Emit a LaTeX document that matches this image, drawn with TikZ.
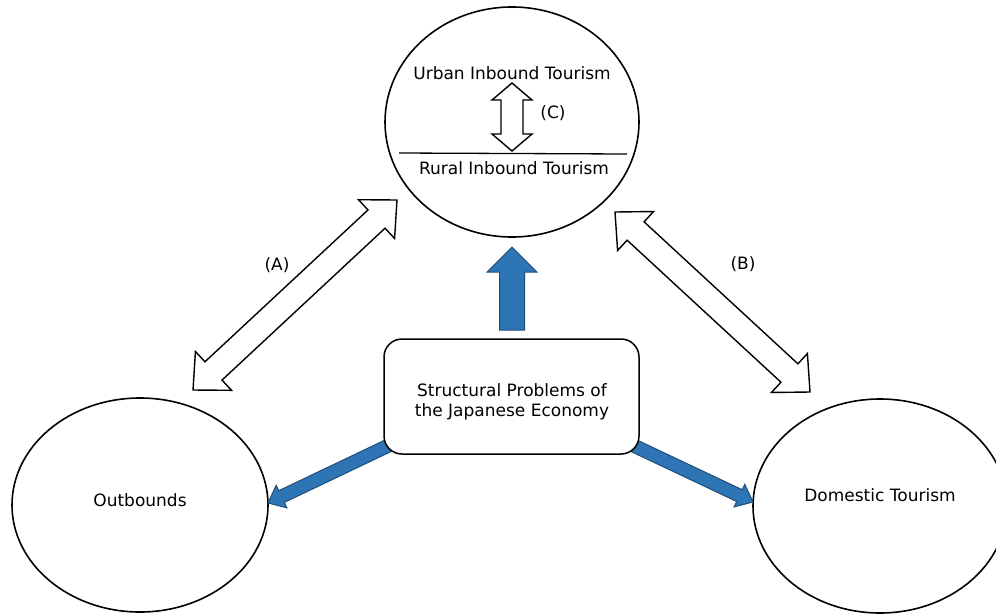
\documentclass[tikz,border=0pt]{standalone}
\usepackage{fontspec}
\setmainfont{DejaVu Sans}
\usetikzlibrary{calc,shapes.geometric}
\definecolor{blockblue}{HTML}{2E75B6}
\definecolor{blockedge}{HTML}{1F4E79}
\tikzset{
  bubble/.style={ellipse, draw, line width=1.6pt, inner sep=0pt},
  lbl/.style={inner sep=0pt, font=\fontsize{17}{20}\selectfont},
  whiteblock/.style={draw, fill=white, line width=1.4pt, line join=miter},
  blueblock/.style={draw=blockedge, fill=blockblue, line width=1pt, line join=miter},
}
% double block arrow: name, start, end, shaft half, head half, head length
\newcommand\dblblock[6]{%
  \coordinate (#1-p) at ($(#2)!#6!(#3)$);
  \coordinate (#1-q) at ($(#3)!#6!(#2)$);
  \draw[whiteblock] (#2) -- ($(#1-p)!#5!90:(#3)$) -- ($(#1-p)!#4!90:(#3)$)
    -- ($(#1-q)!#4!-90:(#2)$) -- ($(#1-q)!#5!-90:(#2)$) -- (#3)
    -- ($(#1-q)!#5!90:(#2)$) -- ($(#1-q)!#4!90:(#2)$)
    -- ($(#1-p)!#4!-90:(#3)$) -- ($(#1-p)!#5!-90:(#3)$) -- cycle;
}
% single block arrow: name, tail, tip, shaft half, head half, head length
\newcommand\sglblock[6]{%
  \coordinate (#1-p) at ($(#3)!#6!(#2)$);
  \draw[blueblock] (#3) -- ($(#1-p)!#5!90:(#2)$) -- ($(#1-p)!#4!90:(#2)$)
    -- ($(#2)!#4!-90:(#1-p)$) -- ($(#2)!#4!90:(#1-p)$)
    -- ($(#1-p)!#4!-90:(#2)$) -- ($(#1-p)!#5!-90:(#2)$) -- cycle;
}
\begin{document}
\begin{tikzpicture}[x=1pt,y=-1pt]
\useasboundingbox (0,0) rectangle (996,614);
\clip (0,0) rectangle (996,614);
\fill[white] (0,0) rectangle (996,614);

% ellipses
\node[bubble, minimum width=254pt, minimum height=230pt] (inbound) at (512,122) {};
\node[bubble, minimum width=256pt, minimum height=214pt] (outb) at (140,505) {};
\node[bubble, minimum width=254pt, minimum height=214pt] (dom) at (880,506) {};

% inside top ellipse
\node[lbl] (urban) at (512,73) {Urban Inbound Tourism};
\node[lbl] (rural) at (514,168) {Rural Inbound Tourism};
\coordinate (divL) at (399,153);
\coordinate (divR) at (627,154);
\draw[line width=1.3pt] (divL) -- (divR);
\coordinate (cTop) at (512,83);
\coordinate (cBot) at (512,151);
\dblblock{C}{cTop}{cBot}{11pt}{20pt}{17pt}
\node[lbl] (clab) at (553,113) {(C)};

% ellipse labels
\node[lbl] (outtxt) at (140,500) {Outbounds};
\node[lbl] (domtxt) at (880,495) {Domestic Tourism};

% double arrows A and B
\coordinate (aOut) at (193,390);
\coordinate (aIn) at (397,200);
\dblblock{A}{aOut}{aIn}{12.5pt}{26.5pt}{28pt}
\node[lbl] (alab) at (277,265) {(A)};
\coordinate (bIn) at (615,212);
\coordinate (bDom) at (810,392);
\dblblock{B}{bIn}{bDom}{12.5pt}{26.5pt}{28pt}
\node[lbl] (blab) at (743,264) {(B)};

% blue arrows
\coordinate (upTail) at (512,330);
\coordinate (upTip) at (512,247);
\sglblock{U}{upTail}{upTip}{12.5pt}{25pt}{25pt}
\coordinate (lTail) at (396,442);
\coordinate (lTip) at (268,503);
\sglblock{L}{lTail}{lTip}{6.5pt}{12.5pt}{15pt}
\coordinate (rTail) at (626,442);
\coordinate (rTip) at (753,502);
\sglblock{R}{rTail}{rTip}{6.5pt}{12.5pt}{15pt}

% central box
\node[draw, line width=1.5pt, rounded corners=18pt, fill=white,
      minimum width=255pt, minimum height=115pt] (econ) at (511.5,396.5) {};
\node[lbl, align=center] (econtxt) at (512,402) {Structural Problems of\\the Japanese Economy};
\end{tikzpicture}
\end{document}
